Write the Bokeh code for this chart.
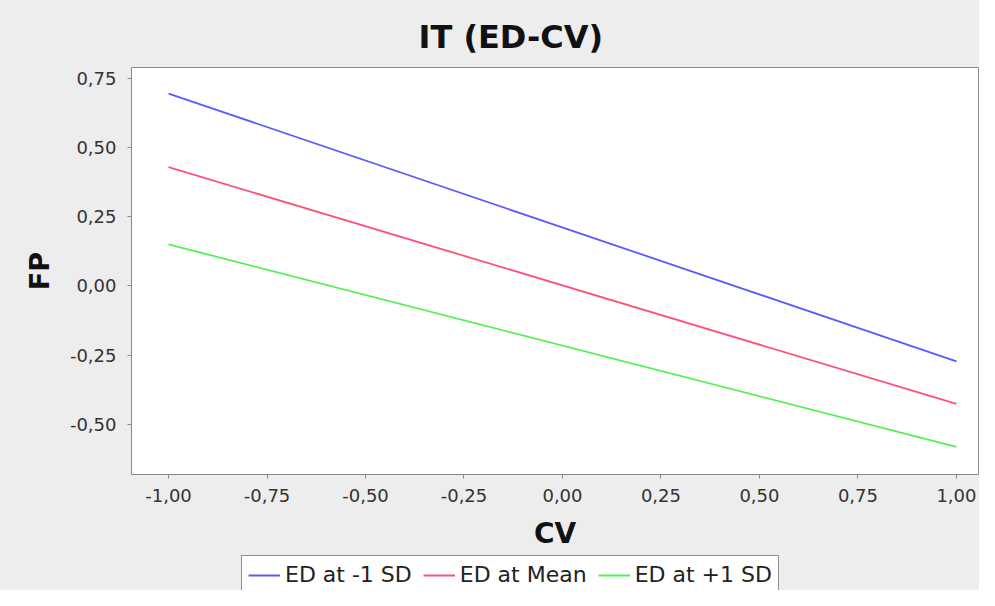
from bokeh.plotting import figure
from bokeh.models import Range1d, FixedTicker, CustomJSTickFormatter, Legend, LegendItem
from bokeh.layouts import column
from bokeh.embed import file_html
from bokeh.resources import INLINE

# ---- data ----
cv = [-1.0, 1.0]
ed_minus_1sd = [0.694, -0.272]
ed_mean = [0.429, -0.425]
ed_plus_1sd = [0.150, -0.580]
series_names = ["ED at -1 SD", "ED at Mean", "ED at +1 SD"]
series_colors = ["#5a5aff", "#ff5078", "#55f055"]
x_ticks = [-1.0, -0.75, -0.5, -0.25, 0.0, 0.25, 0.5, 0.75, 1.0]
y_ticks = [-0.5, -0.25, 0.0, 0.25, 0.5, 0.75]

FONT = "DejaVu Sans"
BG = "#ededed"

p = figure(width=979, height=552, output_backend="svg", toolbar_location=None,
           x_range=Range1d(-1.094, 1.056), y_range=Range1d(-0.680, 0.788),
           min_border_left=131, min_border_right=1, min_border_top=67, min_border_bottom=78)

p.background_fill_color = "white"
p.border_fill_color = BG
p.outline_line_color = "#8a8a8a"
p.outline_line_width = 1
p.grid.visible = False

p.title.text = "IT (ED-CV)"
p.title.text_font = FONT
p.title.text_font_size = "32px"
p.title.text_font_style = "bold"
p.title.text_color = "#111111"
p.title.align = "left"
p.title.offset = 287
p.title.standoff = 24

fmt = CustomJSTickFormatter(code="return tick.toFixed(2).replace('.', ',');")

for ax, ticks, lab in [(p.xaxis[0], x_ticks, "CV"), (p.yaxis[0], y_ticks, "FP")]:
    ax.ticker = FixedTicker(ticks=ticks)
    ax.formatter = fmt
    ax.axis_line_color = None
    ax.major_tick_line_color = "#8a8a8a"
    ax.major_tick_out = 4
    ax.major_tick_in = 0
    ax.minor_tick_line_color = None
    ax.major_label_text_font = FONT
    ax.major_label_text_font_size = "18px"
    ax.major_label_text_color = "#333333"
    ax.axis_label = lab
    ax.axis_label_text_font = FONT
    ax.axis_label_text_font_style = "bold"
    ax.axis_label_text_color = "#111111"

p.xaxis.major_label_standoff = 10
p.xaxis.axis_label_text_font_size = "28px"
p.xaxis.axis_label_standoff = 12
p.yaxis.major_label_standoff = 11
p.yaxis.axis_label_text_font_size = "27px"
p.yaxis.axis_label_standoff = 12

for ys, col in zip([ed_minus_1sd, ed_mean, ed_plus_1sd], series_colors):
    p.line(cv, ys, line_color=col, line_width=1.8)

# legend strip below the chart (its lines fall outside its own range, so only the legend shows)
lf = figure(width=979, height=38, output_backend="svg", toolbar_location=None,
            x_range=Range1d(10, 11), y_range=Range1d(10, 11),
            x_axis_location=None, y_axis_location=None,
            min_border_left=131, min_border_right=1, min_border_top=0, min_border_bottom=0)
lf.background_fill_color = BG
lf.border_fill_color = BG
lf.outline_line_color = None
lf.grid.visible = False

items = []
for ys, name, col in zip([ed_minus_1sd, ed_mean, ed_plus_1sd], series_names, series_colors):
    r = lf.line(cv, ys, line_color=col, line_width=1.8)
    items.append(LegendItem(label=name, renderers=[r]))

legend = Legend(items=items, orientation="horizontal", location=(110, -4),
                label_text_font=FONT, label_text_font_size="22px", label_text_color="#222222",
                glyph_width=32, label_standoff=5, spacing=11, padding=6, margin=0,
                border_line_color="#222222", border_line_width=1.5,
                background_fill_color="white", background_fill_alpha=1.0)
lf.add_layout(legend, "center")

layout = column(p, lf, spacing=0, styles={"background-color": BG})
open("out.html", "w").write(file_html(layout, INLINE))
